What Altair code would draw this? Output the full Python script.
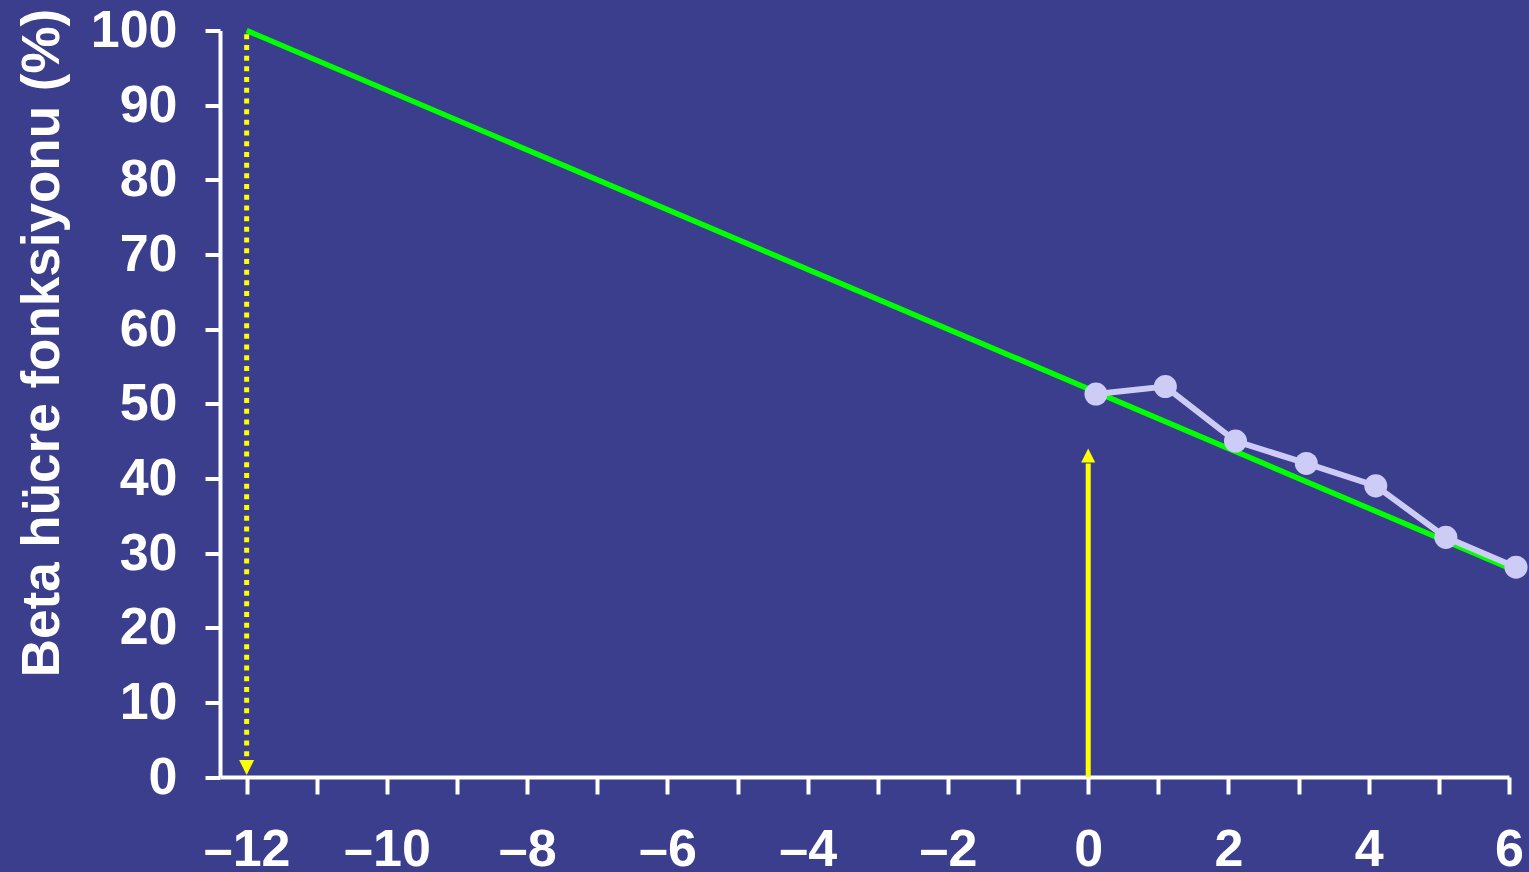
import altair as alt
import pandas as pd

# Months relative to diagnosis and measured beta-cell function (%)
months = [0.11, 1.1, 2.1, 3.11, 4.1, 5.1, 6.1]
beta_function = [51.3, 52.3, 45.0, 42.0, 39.0, 32.1, 28.1]

# Extrapolated linear decline
trend_months = [-12, 6]
trend_values = [100, 28]

# Vertical markers: dotted one at -12, solid one at diagnosis (0)
marker_x = [-12, 0]
marker_top = [99.5, 42]
marker_bottom = [2, 0]
marker_tip = [0, 44]
marker_dash = ["dotted", "solid"]

X_DOMAIN = [-12.38, 6]
Y_DOMAIN = [0, 100]
FONT = "Liberation Sans"
YELLOW = "#ffff00"

measured = pd.DataFrame({"month": months, "beta": beta_function})
trend = pd.DataFrame({"month": trend_months, "beta": trend_values})
markers = pd.DataFrame({
    "month": marker_x, "top": marker_top, "bottom": marker_bottom,
    "tip": marker_tip, "kind": marker_dash,
})

x_scale = alt.Scale(domain=X_DOMAIN, nice=False, zero=False)
y_scale = alt.Scale(domain=Y_DOMAIN, nice=False, zero=False)

x_axis = alt.Axis(
    values=list(range(-12, 7)),
    labelExpr="datum.value % 2 === 0 ? (datum.value < 0 ? '\u2013' + abs(datum.value) : '' + datum.value) : ''",
    title=None, grid=False, labelOverlap=False, labelFlush=False,
    tickSize=17, labelPadding=30,
)
y_axis = alt.Axis(
    values=list(range(0, 101, 10)),
    title="Beta hücre fonksiyonu (%)",
    grid=False, labelOverlap=False, labelFlush=False,
    tickSize=15, labelPadding=28,
    titleAngle=-90, titleX=-162, titleY=312, titleAlign="center",
    titleBaseline="alphabetic",
)

base_x = alt.X("month:Q", scale=x_scale, axis=x_axis)

trend_line = alt.Chart(trend).mark_line(color="#00ff00", strokeWidth=5.5).encode(
    x=base_x,
    y=alt.Y("beta:Q", scale=y_scale, axis=y_axis),
)

measured_line = alt.Chart(measured).mark_line(color="#ccccf6", strokeWidth=6).encode(
    x=alt.X("month:Q", scale=x_scale),
    y=alt.Y("beta:Q", scale=y_scale),
)
measured_points = alt.Chart(measured).mark_circle(color="#ccccf6", size=530, opacity=1).encode(
    x=alt.X("month:Q", scale=x_scale),
    y=alt.Y("beta:Q", scale=y_scale),
)

dotted_rule = alt.Chart(markers).transform_filter(alt.datum.kind == "dotted").mark_rule(
    color=YELLOW, strokeWidth=5, strokeDash=[5, 5.7]
).encode(
    x=alt.X("month:Q", scale=x_scale),
    y=alt.Y("top:Q", scale=y_scale),
    y2="bottom:Q",
)
solid_rule = alt.Chart(markers).transform_filter(alt.datum.kind == "solid").mark_rule(
    color=YELLOW, strokeWidth=5
).encode(
    x=alt.X("month:Q", scale=x_scale),
    y=alt.Y("top:Q", scale=y_scale),
    y2="bottom:Q",
)
head_down = alt.Chart(markers).transform_filter(alt.datum.kind == "dotted").mark_point(
    shape="M-1,-2L1,-2L0,0Z", size=225, filled=True, color=YELLOW, opacity=1, yOffset=-2
).encode(
    x=alt.X("month:Q", scale=x_scale),
    y=alt.Y("tip:Q", scale=y_scale),
)
head_up = alt.Chart(markers).transform_filter(alt.datum.kind == "solid").mark_point(
    shape="M-1,2L1,2L0,0Z", size=196, filled=True, color=YELLOW, opacity=1
).encode(
    x=alt.X("month:Q", scale=x_scale),
    y=alt.Y("tip:Q", scale=y_scale),
)

chart = alt.layer(
    trend_line, dotted_rule, solid_rule, head_down, head_up,
    measured_line, measured_points,
).properties(
    width=1289, height=746.5,
    autosize=alt.AutoSizeParams(type="none"),
    padding={"left": 220, "top": 30.5, "right": 20, "bottom": 95},
    background="#3a3e8c",
).configure_view(
    stroke=None,
).configure_axis(
    domainColor="white", domainWidth=4,
    tickColor="white", tickWidth=4,
    labelColor="white", labelFont=FONT, labelFontSize=52, labelFontWeight="bold",
    titleColor="white", titleFont=FONT, titleFontSize=53, titleFontWeight="bold",
)

chart.save("out.html", embed_options={"renderer": "svg", "actions": False})
